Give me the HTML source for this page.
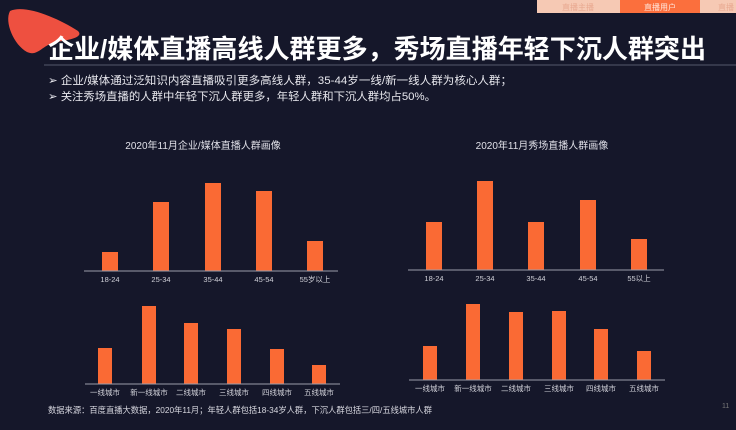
<!DOCTYPE html>
<html><head><meta charset="utf-8"><style>
body{margin:0;width:736px;height:430px;overflow:hidden;background:#15172a;font-family:"Liberation Sans","Noto Sans CJK SC",sans-serif;}
</style></head><body>
<svg width="736" height="430" xmlns="http://www.w3.org/2000/svg" style="position:absolute;left:0;top:0">
<rect width="736" height="430" fill="#15172a"/>
<path d="M10,11 C25,4 58,18 78,31 C84,37 70,40 56,42 C42,45 38,57 27,52 C14,45 4,22 10,11 Z" fill="#ee5040"/>
<rect x="537" y="0" width="199" height="13" fill="#f6c9b4"/>
<rect x="620" y="0" width="80" height="13" fill="#fb6f3d"/>
<g font-size="8" fill="#e8a890" text-anchor="middle"><text x="578" y="10">直播主播</text><text x="726" y="10">直播</text></g>
<text x="660" y="10" font-size="8" fill="#ffe6dc" text-anchor="middle">直播用户</text>
<text x="48" y="58" font-size="26" font-weight="bold" fill="#fff" textLength="658" lengthAdjust="spacingAndGlyphs">企业/媒体直播高线人群更多，秀场直播年轻下沉人群突出</text>
<line x1="44" y1="65" x2="736" y2="65" stroke="#555a6c" stroke-width="1"/>
<g font-size="11" fill="#e8e8ee"><text x="48" y="84" textLength="464" lengthAdjust="spacingAndGlyphs">➢  企业/媒体通过泛知识内容直播吸引更多高线人群，35-44岁一线/新一线人群为核心人群；</text>
<text x="48" y="100" textLength="388" lengthAdjust="spacingAndGlyphs">➢  关注秀场直播的人群中年轻下沉人群更多，年轻人群和下沉人群均占50%。</text></g>
<g font-size="10" fill="#e0e0e8" text-anchor="middle"><text x="203" y="149">2020年11月企业/媒体直播人群画像</text><text x="542" y="149">2020年11月秀场直播人群画像</text></g>
<g fill="#fa6a34">
<rect x="102" y="252" width="16" height="19"/><rect x="153" y="202" width="16" height="69"/><rect x="205" y="183" width="16" height="88"/><rect x="256" y="191" width="16" height="80"/><rect x="307" y="241" width="16" height="30"/>
<rect x="426" y="222" width="16" height="48"/><rect x="477" y="181" width="16" height="89"/><rect x="528" y="222" width="16" height="48"/><rect x="580" y="200" width="16" height="70"/><rect x="631" y="239" width="16" height="31"/>
<rect x="98" y="348" width="14" height="36"/><rect x="142" y="306" width="14" height="78"/><rect x="184" y="323" width="14" height="61"/><rect x="227" y="329" width="14" height="55"/><rect x="270" y="349" width="14" height="35"/><rect x="312" y="365" width="14" height="19"/>
<rect x="423" y="346" width="14" height="34"/><rect x="466" y="304" width="14" height="76"/><rect x="509" y="312" width="14" height="68"/><rect x="552" y="311" width="14" height="69"/><rect x="594" y="329" width="14" height="51"/><rect x="637" y="351" width="14" height="29"/>
</g>
<g stroke="#9a9cab" stroke-width="1"><line x1="84" y1="271" x2="338" y2="271"/><line x1="408" y1="270" x2="664" y2="270"/><line x1="85" y1="384" x2="340" y2="384"/><line x1="409" y1="380" x2="665" y2="380"/></g>
<g font-size="7.5" fill="#d0d0d8" text-anchor="middle">
<text x="110" y="282">18-24</text><text x="161" y="282">25-34</text><text x="213" y="282">35-44</text><text x="264" y="282">45-54</text><text x="315" y="282">55岁以上</text>
<text x="434" y="281">18-24</text><text x="485" y="281">25-34</text><text x="536" y="281">35-44</text><text x="588" y="281">45-54</text><text x="639" y="281">55以上</text>
<text x="105" y="395">一线城市</text><text x="149" y="395">新一线城市</text><text x="191" y="395">二线城市</text><text x="234" y="395">三线城市</text><text x="277" y="395">四线城市</text><text x="319" y="395">五线城市</text>
<text x="430" y="391">一线城市</text><text x="473" y="391">新一线城市</text><text x="516" y="391">二线城市</text><text x="559" y="391">三线城市</text><text x="601" y="391">四线城市</text><text x="644" y="391">五线城市</text>
</g>
<text x="48" y="413" font-size="8.5" fill="#d8d8e0" textLength="384" lengthAdjust="spacingAndGlyphs">数据来源：百度直播大数据，2020年11月；年轻人群包括18-34岁人群，下沉人群包括三/四/五线城市人群</text>
<text x="722" y="408" font-size="7" fill="#777">11</text>
</svg>
</body></html>
